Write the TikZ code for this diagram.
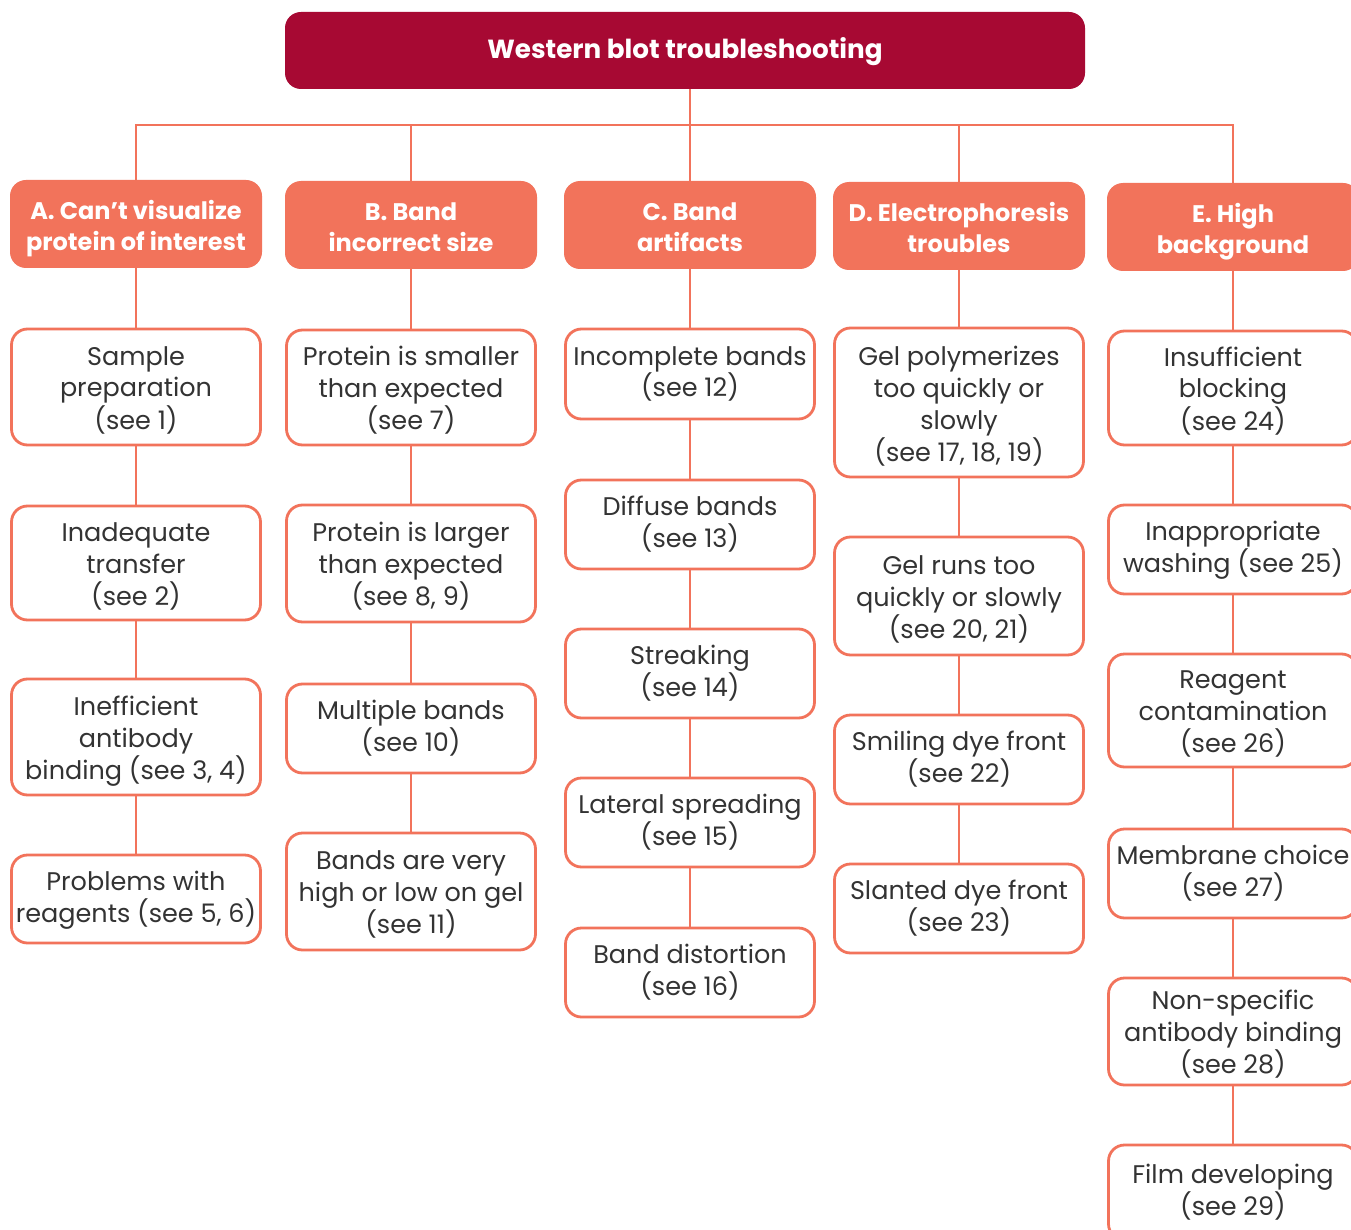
\documentclass[tikz,border=0pt]{standalone}
\usepackage{fontspec}
\setmainfont{Poppins}
\definecolor{titlered}{HTML}{A70933}
\definecolor{salmon}{HTML}{F2735B}
\definecolor{txt}{HTML}{333333}
\newcommand{\boxtext}[1]{\parbox[t]{249pt}{\centering #1}}
\begin{document}
\begin{tikzpicture}[x=1pt,y=-1pt,
  title/.style={fill=titlered,rounded corners=16pt,minimum width=800pt,minimum height=77pt,
    inner sep=0pt,text=white,font=\fontsize{26.2}{32}\selectfont\bfseries,
    text height=15.6pt,text depth=0pt},
  head/.style={fill=salmon,rounded corners=16pt,minimum width=252pt,minimum height=88pt,
    inner sep=0pt,text=white,font=\fontsize{24}{31}\selectfont\bfseries,
    text height=0pt,text depth=8.6pt},
  sub/.style={draw=salmon,line width=2.8pt,fill=white,rounded corners=16pt,minimum width=249pt,
    inner sep=0pt,text=txt,font=\fontsize{25.5}{32}\selectfont,text height=0pt},
  n2/.style={sub,text depth=18pt},
  n3/.style={sub,text depth=44pt},
  n4/.style={sub,text depth=74pt},
  conn/.style={draw=salmon,line width=2.8pt}]
\useasboundingbox (0,0) rectangle (1351,1230);
\clip (0,0) rectangle (1351,1230);
\fill[white] (0,0) rectangle (1351,1230);

\coordinate (bar) at (690,125);

\node[title] (title) at (685,50.5) {Western blot troubleshooting};

\node[head] (hA) at (136,224) {\boxtext{A. Can't visualize\\protein of interest}};
\node[head] (hB) at (411,225) {\boxtext{B. Band\\incorrect size}};
\node[head] (hC) at (690,225) {\boxtext{C. Band\\artifacts}};
\node[head] (hD) at (959,226) {\boxtext{D. Electrophoresis\\troubles}};
\node[head] (hE) at (1233,227) {\boxtext{E. High\\background}};

% column A
\node[n3,minimum height=116pt] (a1) at (136,387) {\boxtext{Sample\\preparation\\(see 1)}};
\node[n3,minimum height=114pt] (a2) at (136,563) {\boxtext{Inadequate\\transfer\\(see 2)}};
\node[n3,minimum height=116pt] (a3) at (136,737) {\boxtext{Inefficient\\antibody\\binding (see 3, 4)}};
\node[n2,minimum height=88pt] (a4) at (136,899) {\boxtext{Problems with\\reagents (see 5, 6)}};
% column B
\node[n3,minimum height=115pt] (b1) at (411,387.5) {\boxtext{Protein is smaller\\than expected\\(see 7)}};
\node[n3,minimum height=117pt] (b2) at (411,563.5) {\boxtext{Protein is larger\\than expected\\(see 8, 9)}};
\node[n2,minimum height=89pt] (b3) at (411,728.5) {\boxtext{Multiple bands\\(see 10)}};
\node[n3,minimum height=117pt] (b4) at (411,891.5) {\boxtext{Bands are very\\high or low on gel\\(see 11)}};
% column C
\node[n2,minimum height=90pt] (c1) at (690,374) {\boxtext{Incomplete bands\\(see 12)}};
\node[n2,minimum height=89pt] (c2) at (690,524.5) {\boxtext{Diffuse bands\\(see 13)}};
\node[n2,minimum height=89pt] (c3) at (690,673.5) {\boxtext{Streaking\\(see 14)}};
\node[n2,minimum height=89pt] (c4) at (690,822.5) {\boxtext{Lateral spreading\\(see 15)}};
\node[n2,minimum height=89pt] (c5) at (690,972.5) {\boxtext{Band distortion\\(see 16)}};
% column D
\node[n4,minimum height=149pt] (d1) at (959,402.5) {\boxtext{Gel polymerizes\\too quickly or\\slowly\\(see 17, 18, 19)}};
\node[n3,minimum height=118pt] (d2) at (959,596) {\boxtext{Gel runs too\\quickly or slowly\\(see 20, 21)}};
\node[n2,minimum height=89pt] (d3) at (959,759.5) {\boxtext{Smiling dye front\\(see 22)}};
\node[n2,minimum height=89pt] (d4) at (959,908.5) {\boxtext{Slanted dye front\\(see 23)}};
% column E
\node[n3,minimum height=114pt] (e1) at (1233,388) {\boxtext{Insufficient\\blocking\\(see 24)}};
\node[n2,minimum height=89pt] (e2) at (1233,549.5) {\boxtext{Inappropriate\\washing (see 25)}};
\node[n3,minimum height=113pt] (e3) at (1233,710.5) {\boxtext{Reagent\\contamination\\(see 26)}};
\node[n2,minimum height=89pt] (e4) at (1233,873.5) {\boxtext{Membrane choice\\(see 27)}};
\node[n3,minimum height=107pt] (e5) at (1233,1031.5) {\boxtext{Non-specific\\antibody binding\\(see 28)}};
\node[n2,minimum height=95pt] (e6) at (1233,1192.5) {\boxtext{Film developing\\(see 29)}};

\draw[conn] (title.south -| hC.north) -- (hC.north);
\draw[conn] (hA.north) |- (hE.north |- bar) -- (hE.north);
\draw[conn] (hB.north) -- (hB.north |- bar);
\draw[conn] (hD.north) -- (hD.north |- bar);
\draw[conn] (hA) -- (a1) (a1) -- (a2) (a2) -- (a3) (a3) -- (a4);
\draw[conn] (hB) -- (b1) (b1) -- (b2) (b2) -- (b3) (b3) -- (b4);
\draw[conn] (hC) -- (c1) (c1) -- (c2) (c2) -- (c3) (c3) -- (c4) (c4) -- (c5);
\draw[conn] (hD) -- (d1) (d1) -- (d2) (d2) -- (d3) (d3) -- (d4);
\draw[conn] (hE) -- (e1) (e1) -- (e2) (e2) -- (e3) (e3) -- (e4) (e4) -- (e5) (e5) -- (e6);
\end{tikzpicture}
\end{document}
